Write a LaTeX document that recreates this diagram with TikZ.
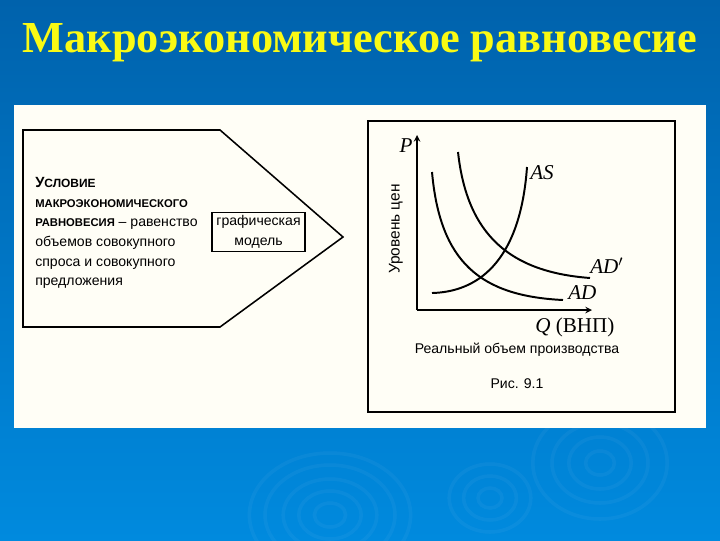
\documentclass[tikz,border=0pt]{standalone}
\usepackage{fontspec}
\setmainfont{Liberation Serif}
\setsansfont{Liberation Sans}
\definecolor{slidetop}{RGB}{0,98,172}
\definecolor{slidebot}{RGB}{0,138,222}
\definecolor{paper}{RGB}{255,254,246}
\definecolor{titleyellow}{RGB}{250,250,20}
\tikzset{
  frame/.style={line width=1.1pt},
  curve/.style={line width=1.4pt},
  slidetitle/.style={font=\bfseries\fontsize{31.5}{31.5}\selectfont, text=titleyellow, inner sep=0pt},
  txt/.style={font=\sffamily\fontsize{10}{14}\selectfont, inner sep=0pt},
  lbl/.style={font=\itshape\fontsize{15}{15}\selectfont, inner sep=0pt},
  ripple/.style={draw=white, opacity=0.04, line width=2.5pt}
}
\begin{document}
\begin{tikzpicture}[x=0.025cm,y=-0.025cm]
  \shade[top color=slidetop,bottom color=slidebot] (0,0) rectangle (720,540);
  \useasboundingbox (0,0) rectangle (720,540);
  % ripples on the slide
  \foreach \r in {12,24,36,50,62} \draw[ripple] (330,515) ellipse [x radius=\r*1.3, y radius=\r];
  \foreach \r in {10,22,34} \draw[ripple] (490,498) ellipse [x radius=\r*1.2, y radius=\r];
  \foreach \r in {12,26,40,56} \draw[ripple] (600,463) ellipse [x radius=\r*1.2, y radius=\r];
  \node[slidetitle] (title) at (360,43) {Макроэкономическое равновесие};
  \fill[paper] (14,105) rectangle (706,428);
  % left block
  \draw[frame] (23,130) -- (220,130) -- (343,237) -- (220,327) -- (23,327) -- cycle;
  \node[txt, anchor=north west, align=left] (cond) at (35,177)
    {\bfseries\fontsize{10.5}{14}\selectfont У\fontsize{8.5}{14}\selectfont СЛОВИЕ\\
     \bfseries\fontsize{8}{14}\selectfont МАКРОЭКОНОМИЧЕСКОГО\\
     {\bfseries\fontsize{8}{14}\selectfont РАВНОВЕСИЯ} -- равенство\\
     объемов совокупного\\
     спроса и совокупного\\
     предложения};
  \node[txt, draw, frame, align=center, minimum width=66pt, minimum height=28pt] (model) at (258.5,232)
    {графическая\\модель};
  % right block
  \draw[frame] (368,121) rectangle (675,412);
  \coordinate (O) at (417,310);
  \coordinate (ptop) at (417,135);
  \coordinate (qend) at (592,310);
  \draw[frame,-stealth] (O) -- (ptop);
  \draw[frame,-stealth] (O) -- (qend);
  \node[lbl] (P) at (406,146) {P};
  \node[txt, rotate=90, font=\sffamily\fontsize{11}{11}\selectfont] (ylab) at (396,229) {Уровень цен};
  \draw[curve] (432,172) .. controls (440,262) and (480,296) .. (563,300);
  \draw[curve] (458,152) .. controls (467,235) and (510,272) .. (590,278);
  \draw[curve] (432,293) .. controls (475,292) and (520,265) .. (527,167);
  \node[lbl, anchor=west] (AS) at (530,173) {AS};
  \node[lbl, anchor=west] (ADp) at (590,266) {AD$'$};
  \node[lbl, anchor=west] (AD) at (568,293) {AD};
  \node[lbl, anchor=west] (Q) at (535,327) {Q \upshape(ВНП)};
  \node[txt] (xlab) at (517,350) {Реальный объем производства};
  \node[txt] (fig) at (517,384) {Рис. 9.1};
\end{tikzpicture}
\end{document}
